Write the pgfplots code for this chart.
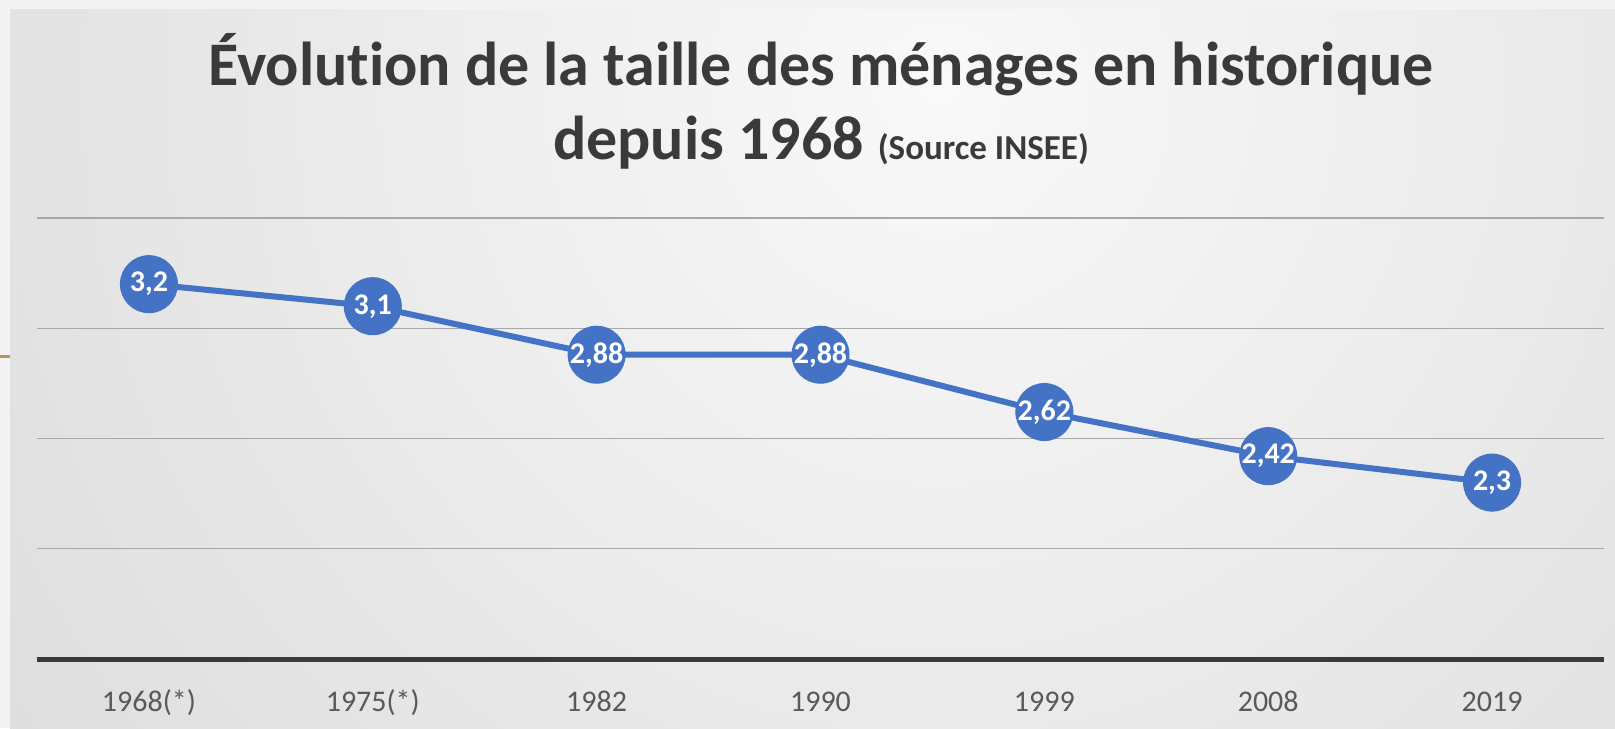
\documentclass[border=0pt]{standalone}
\usepackage{pgfplots}
\pgfplotsset{compat=1.18}
\usepackage{pgfplotstable}
\usepackage{fontspec}
\setmainfont{Carlito}[Ligatures=NoCommon]
\definecolor{lineblue}{HTML}{4472C4}
\definecolor{titlegray}{HTML}{3A3A3A}
\definecolor{tickgray}{HTML}{595959}
\definecolor{gridgray}{HTML}{A8A8A8}
\definecolor{bginner}{HTML}{F9F9F9}
\definecolor{bgouter}{HTML}{C2C2C2}
\definecolor{pagebg}{HTML}{F3F3F3}
\definecolor{brownline}{HTML}{B8955A}

\pgfplotstableread{
x y label
0 3.2  {3,2}
1 3.1  {3,1}
2 2.88 {2,88}
3 2.88 {2,88}
4 2.62 {2,62}
5 2.42 {2,42}
6 2.3  {2,3}
}\datatable

\begin{document}
\begin{tikzpicture}
\useasboundingbox (0,0) rectangle (807.5pt,364pt);
\fill[pagebg] (0,0) rectangle (807.5pt,364pt);
\begin{scope}
\clip (5pt,0) rectangle (807.5pt,359pt);
\shade[inner color=bginner, outer color=bgouter] (470pt,320pt) circle (1150pt);
\end{scope}
\draw[brownline, line width=1.5pt] (0,185.5pt) -- (5pt,185.5pt);

\node[anchor=base, font=\fontsize{31}{36}\selectfont\bfseries, text=titlegray, inner sep=0pt]
  at (410.5pt,321.25pt) {Évolution de la taille des ménages en historique};
\node[anchor=base, font=\fontsize{31}{36}\selectfont\bfseries, text=titlegray, inner sep=0pt]
  at (410.5pt,284pt) {depuis 1968 {\fontsize{17.5}{20}\selectfont (Source INSEE)}};

\begin{axis}[
  at={(18.5pt,34.5pt)}, anchor=south west,
  scale only axis, width=783.5pt, height=220.5pt,
  xmin=-0.5, xmax=6.5, ymin=1.5, ymax=3.5,
  axis x line=bottom, axis y line=left,
  y axis line style={draw=none},
  x axis line style={draw=titlegray, line width=2.5pt, -},
  ytick={2,2.5,3,3.5}, yticklabels={},
  ymajorgrids, grid style={draw=gridgray, line width=0.7pt},
  xtick={0,1,2,3,4,5,6},
  xticklabels={1968(*),1975(*),1982,1990,1999,2008,2019},
  tick style={draw=none},
  xticklabel style={anchor=base, yshift=-24pt, font=\fontsize{15}{18}\selectfont, text=tickgray},
  clip=false,
]
\addplot[color=lineblue, line width=3pt, mark=*, mark size=14.25pt,
  mark options={fill=lineblue, draw=lineblue, line width=0.5pt},
  nodes near coords, point meta=explicit symbolic,
  every node near coord/.append style={anchor=center, text=white, font=\fontsize{15}{18}\selectfont\bfseries, inner sep=0pt}]
  table[x=x, y=y, meta=label] {\datatable};
\end{axis}
\end{tikzpicture}
\end{document}
